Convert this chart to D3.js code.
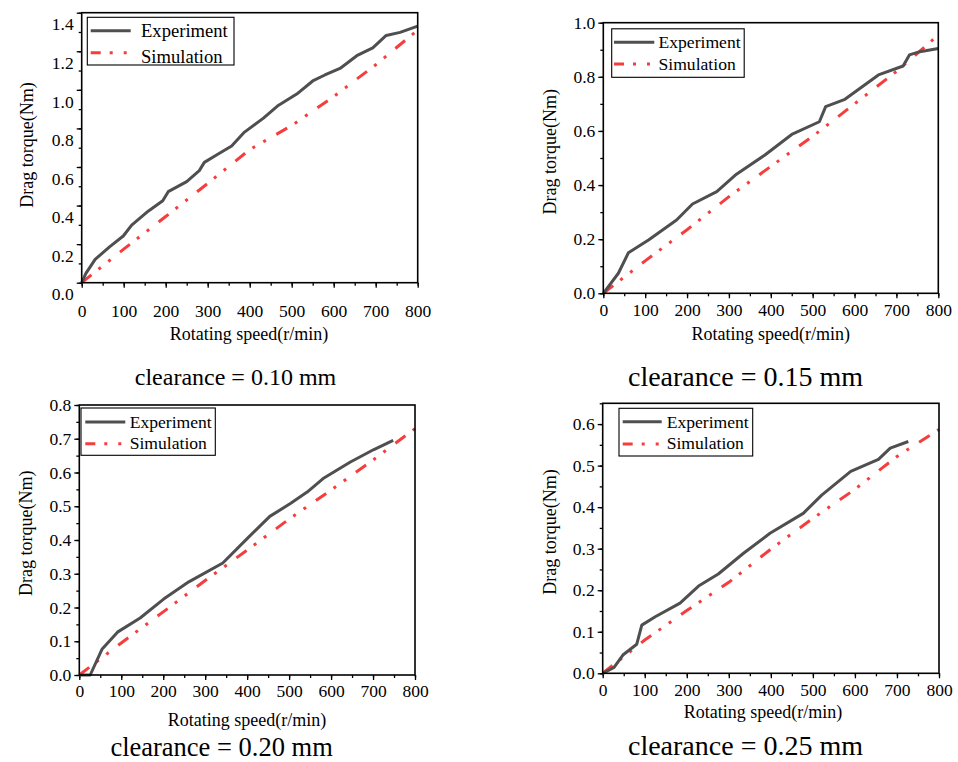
<!DOCTYPE html>
<html><head><meta charset="utf-8">
<script src="https://cdn.jsdelivr.net/npm/d3@7"></script>
<style>
html,body{margin:0;padding:0;background:#fff;}
svg text{font-family:"Liberation Serif","Times New Roman",serif;fill:#000;}
</style></head><body>
<svg id="chart" width="958" height="762"></svg>
<script>
// ---------------- data ----------------
const seriesNames = ["Experiment", "Simulation"];
const xTickValues = [0, 100, 200, 300, 400, 500, 600, 700, 800];
const simSpeed = [0, 100, 200, 300, 400, 500, 600, 700, 800];

const expSpeed010 = [0, 10, 32, 67, 99, 119, 159, 193, 206, 250, 280, 292, 321, 357, 386, 432, 466, 512, 550, 579, 615, 655, 693, 725, 758, 800];
const expTorque010 = [0, 0.048, 0.121, 0.187, 0.242, 0.299, 0.372, 0.425, 0.472, 0.524, 0.581, 0.624, 0.662, 0.709, 0.778, 0.852, 0.916, 0.978, 1.046, 1.077, 1.111, 1.177, 1.218, 1.282, 1.298, 1.330];
const simTorque010 = [0, 0.174, 0.343, 0.515, 0.69, 0.815, 0.965, 1.13, 1.31];

const expSpeed015 = [0, 36, 60, 108, 175, 213, 271, 318, 386, 450, 516, 531, 577, 657, 716, 731, 756, 800];
const expTorque015 = [0, 0.074, 0.150, 0.197, 0.271, 0.330, 0.376, 0.440, 0.511, 0.587, 0.634, 0.690, 0.717, 0.807, 0.840, 0.881, 0.893, 0.905];
const simTorque015 = [0, 0.12, 0.235, 0.357, 0.469, 0.58, 0.70, 0.82, 0.954];

const expSpeed020 = [0, 26, 54, 91, 145, 201, 261, 342, 400, 454, 503, 543, 581, 646, 702, 748];
const expTorque020 = [0, 0, 0.076, 0.127, 0.169, 0.225, 0.276, 0.332, 0.404, 0.470, 0.508, 0.542, 0.582, 0.631, 0.668, 0.695];
const simTorque020 = [0, 0.095, 0.187, 0.28, 0.37, 0.462, 0.548, 0.637, 0.73];

const expSpeed025 = [0, 27, 48, 81, 93, 125, 184, 228, 275, 335, 398, 477, 521, 590, 656, 684, 727];
const expTorque025 = [0, 0.014, 0.044, 0.070, 0.116, 0.136, 0.169, 0.210, 0.239, 0.289, 0.337, 0.385, 0.429, 0.486, 0.515, 0.542, 0.558];
const simTorque025 = [0, 0.080, 0.151, 0.219, 0.299, 0.373, 0.443, 0.522, 0.587];

const captions = ["clearance = 0.10 mm", "clearance = 0.15 mm", "clearance = 0.20 mm", "clearance = 0.25 mm"];
const yTickValues010 = [0, 0.2, 0.4, 0.6, 0.8, 1.0, 1.2, 1.4];
const yTickValues015 = [0, 0.2, 0.4, 0.6, 0.8, 1.0];
const yTickValues020 = [0, 0.1, 0.2, 0.3, 0.4, 0.5, 0.6, 0.7, 0.8];
const yTickValues025 = [0, 0.1, 0.2, 0.3, 0.4, 0.5, 0.6];

// ---------------- layout ----------------
const panels = [
  {expX: expSpeed010, expY: expTorque010, simY: simTorque010, yTicks: yTickValues010, yMax: 1.4, yMinor: 0.1, caption: captions[0],
   L: 81.7, T: 12.7, R: 417.7, B: 282.7, shift: 11.6,
   yTitle: [26.7, 145], xTitle: [249, 340], cap: [235.5, 385], capFs: 24,
   leg: {x0: 87.3, y0: 17.3, x1: 234, y1: 65, lx0: 90.7, lx1: 130.7, tx: 141, ly: [30.7, 52.7], ty: [37.3, 63.3], fs: 18.6}},
  {expX: expSpeed015, expY: expTorque015, simY: simTorque015, yTicks: yTickValues015, yMax: 1.0, yMinor: 0.1, caption: captions[1],
   L: 603.3, T: 22.7, R: 938.3, B: 293.3, shift: 0,
   yTitle: [550, 151.7], xTitle: [770.8, 340], cap: [745.5, 386], capFs: 28,
   leg: {x0: 611.7, y0: 28.8, x1: 744.2, y1: 77.3, lx0: 614, lx1: 654.3, tx: 658.5, ly: [42.2, 64], ty: [48.3, 69.7], fs: 17.6}},
  {expX: expSpeed020, expY: expTorque020, simY: simTorque020, yTicks: yTickValues020, yMax: 0.8, yMinor: 0.05, caption: captions[2],
   L: 79.3, T: 405, R: 415, B: 675, shift: 0,
   yTitle: [25.8, 533.3], xTitle: [247, 726], cap: [221.6, 755.5], capFs: 26.5,
   leg: {x0: 81, y0: 408, x1: 215.3, y1: 455.3, lx0: 85.3, lx1: 125.3, tx: 129.7, ly: [422, 443.7], ty: [428, 449], fs: 17.6}},
  {expX: expSpeed025, expY: expTorque025, simY: simTorque025, yTicks: yTickValues025, yMax: 0.65, yMinor: 0.05, caption: captions[3],
   L: 602.7, T: 403.3, R: 939, B: 673.3, shift: 0,
   yTitle: [550, 532], xTitle: [763, 718], cap: [745.5, 755], capFs: 28,
   leg: {x0: 619, y0: 408.3, x1: 752.7, y1: 456, lx0: 622.7, lx1: 661.7, tx: 666.7, ly: [421.7, 444], ty: [427.5, 449.3], fs: 17.6}}
];

const expColor = "#4f4f4f";
const simColor = "#f53d3d";
const simDash = "12.5,9,3,9.5,3,12";

const svg = d3.select("#chart");

panels.forEach(p => {
  const g = svg.append("g");
  const x = d3.scaleLinear().domain([0, 800]).range([p.L, p.R]);
  const y = d3.scaleLinear().domain([0, p.yMax]).range([p.B, p.T]);

  // minor ticks
  const xMinor = d3.range(0, 801, 50);
  const yMinor = d3.range(0, p.yMax + 1e-9, p.yMinor);
  g.append("g").attr("transform", `translate(0,${p.B})`)
    .call(d3.axisBottom(x).tickValues(xMinor).tickSize(3).tickFormat(""))
    .call(a => a.select(".domain").remove())
    .selectAll("line").attr("stroke", "#000").attr("stroke-width", 1.3);
  g.append("g").attr("transform", `translate(${p.L},0)`)
    .call(d3.axisLeft(y).tickValues(yMinor).tickSize(3).tickFormat(""))
    .call(a => a.select(".domain").remove())
    .selectAll("line").attr("stroke", "#000").attr("stroke-width", 1.3);

  // major axes
  const xa = g.append("g").attr("transform", `translate(0,${p.B})`)
    .call(d3.axisBottom(x).tickValues(xTickValues).tickSize(5).tickPadding(5).tickFormat(d3.format("d")));
  const ya = g.append("g").attr("transform", `translate(${p.L},0)`)
    .call(d3.axisLeft(y).tickValues(p.yTicks).tickSize(5).tickPadding(3).tickFormat(d3.format(".1f")));
  [xa, ya].forEach(a => {
    a.select(".domain").remove();
    a.selectAll("line").attr("stroke", "#000").attr("stroke-width", 1.3);
    a.selectAll("text").attr("font-size", 17.5).attr("fill", "#000")
      .style("font-family", '"Liberation Serif", serif');
  });
  if (p.shift) {
    xa.selectAll("text").attr("transform", `translate(0,${p.shift})`);
    ya.selectAll("text").attr("transform", `translate(0,${p.shift})`);
  }

  // lines
  const lineGen = d3.line().x(d => x(d[0])).y(d => y(d[1]));
  const simPts = simSpeed.map((s, i) => [s, p.simY[i]]);
  const expPts = p.expX.map((s, i) => [s, p.expY[i]]);
  g.append("path").datum(simPts).attr("d", lineGen)
    .attr("fill", "none").attr("stroke", simColor).attr("stroke-width", 3)
    .attr("stroke-dasharray", simDash);
  g.append("path").datum(expPts).attr("d", lineGen)
    .attr("fill", "none").attr("stroke", expColor).attr("stroke-width", 3)
    .attr("stroke-linejoin", "round");

  // frame
  g.append("rect").attr("x", p.L).attr("y", p.T).attr("width", p.R - p.L).attr("height", p.B - p.T)
    .attr("fill", "none").attr("stroke", "#000").attr("stroke-width", 1.6);

  // legend
  const lg = p.leg;
  g.append("rect").attr("x", lg.x0).attr("y", lg.y0).attr("width", lg.x1 - lg.x0).attr("height", lg.y1 - lg.y0)
    .attr("fill", "#fff").attr("stroke", "#000").attr("stroke-width", 1.1);
  g.append("line").attr("x1", lg.lx0).attr("x2", lg.lx1).attr("y1", lg.ly[0]).attr("y2", lg.ly[0])
    .attr("stroke", expColor).attr("stroke-width", 3);
  g.append("line").attr("x1", lg.lx0).attr("x2", lg.lx1).attr("y1", lg.ly[1]).attr("y2", lg.ly[1])
    .attr("stroke", simColor).attr("stroke-width", 3).attr("stroke-dasharray", "10,9,3,11,3,10");
  seriesNames.forEach((n, i) => {
    g.append("text").attr("x", lg.tx).attr("y", lg.ty[i]).attr("font-size", lg.fs).text(n);
  });

  // titles
  g.append("text").attr("transform", `translate(${p.yTitle[0]},${p.yTitle[1]}) rotate(-90)`)
    .attr("text-anchor", "middle").attr("dy", "0.35em").attr("font-size", 18).text("Drag torque(Nm)");
  g.append("text").attr("x", p.xTitle[0]).attr("y", p.xTitle[1])
    .attr("text-anchor", "middle").attr("font-size", 18).text("Rotating speed(r/min)");
  g.append("text").attr("x", p.cap[0]).attr("y", p.cap[1])
    .attr("text-anchor", "middle").attr("font-size", p.capFs).text(p.caption);
});
</script>
</body></html>
